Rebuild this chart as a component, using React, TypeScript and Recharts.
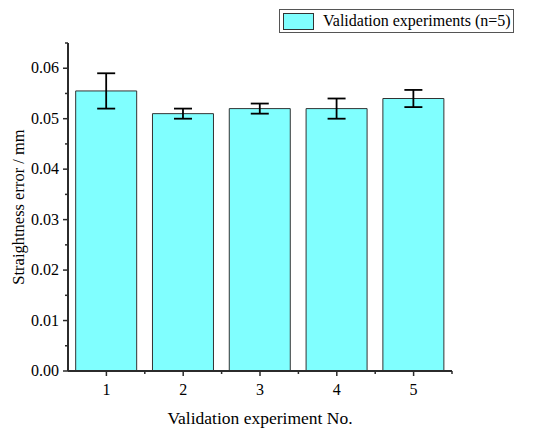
import React from 'react';
import {
  BarChart,
  Bar,
  XAxis,
  YAxis,
  ErrorBar
} from 'recharts';

const experiments = ['1', '2', '3', '4', '5'];
const meanError = [0.0555, 0.051, 0.052, 0.052, 0.054];
const stdDev = [0.0035, 0.001, 0.001, 0.002, 0.0017];
const yTicks = [0, 0.005, 0.01, 0.015, 0.02, 0.025, 0.03, 0.035, 0.04, 0.045, 0.05, 0.055, 0.06, 0.065];
const majorYTicks = [0, 0.01, 0.02, 0.03, 0.04, 0.05, 0.06];

const data = experiments.map((name, i) => ({
  name,
  value: meanError[i],
  err: stdDev[i]
}));

const FONT = '"Liberation Serif", "Times New Roman", serif';
const AXIS = '#2b2b2b';

const isMajor = (v: number) => majorYTicks.some(m => Math.abs(m - v) < 1e-9);

// tickSize/tickMargin are 0, so x is the axis line itself
const YTick = (props: any) => {
  const { x, y, payload } = props;
  const major = isMajor(payload.value);
  return (
    <g>
      <line x1={x - (major ? 5 : 3)} x2={x} y1={y} y2={y} stroke={AXIS} strokeWidth={1.5} />
      {major && (
        <text x={x - 9} y={y} dy={5} textAnchor="end" fontFamily={FONT} fontSize={16} fill="#000">
          {payload.value.toFixed(2)}
        </text>
      )}
    </g>
  );
};

const XTick = (props: any) => {
  const { x, y, payload } = props;
  const half = payload.offset || 38.4;
  return (
    <g>
      <line x1={x} x2={x} y1={y} y2={y + 5} stroke={AXIS} strokeWidth={1.5} />
      <line x1={x + half} x2={x + half} y1={y} y2={y + 3} stroke={AXIS} strokeWidth={1.5} />
      <text x={x} y={y + 24} textAnchor="middle" fontFamily={FONT} fontSize={16} fill="#000">
        {payload.value}
      </text>
    </g>
  );
};

const LegendBox = () => (
  <div
    style={{
      position: 'absolute',
      left: 279,
      top: 9,
      display: 'flex',
      alignItems: 'center',
      width: 233,
      height: 22,
      border: '1px solid #555',
      background: '#fff',
      fontFamily: FONT,
      fontSize: 16,
      whiteSpace: 'nowrap',
      boxSizing: 'content-box'
    }}
  >
    <div
      style={{
        flex: 'none',
        width: 31,
        height: 17,
        marginLeft: 3,
        marginRight: 9,
        background: '#80ffff',
        border: '1px solid #333',
        boxSizing: 'border-box'
      }}
    />
    <span>Validation experiments (n=5)</span>
  </div>
);

export default function App() {
  return (
    <div style={{ position: 'absolute', left: 0, top: 0, width: 550, height: 437, background: '#fff' }}>
      <BarChart
        width={550}
        height={437}
        data={data}
        margin={{ top: 43, right: 98, left: 0, bottom: 0 }}
        barCategoryGap="10%"
      >
        <XAxis
          dataKey="name"
          height={66}
          axisLine={{ stroke: AXIS, strokeWidth: 2 }}
          tickLine={false}
          tickSize={0}
          tickMargin={0}
          tick={<XTick />}
          interval={0}
          label={{
            value: 'Validation experiment No.',
            position: 'insideBottom',
            offset: 13,
            style: { fontFamily: FONT, fontSize: 17.5, fill: '#000' }
          }}
        />
        <YAxis
          width={68}
          domain={[0, 0.065]}
          ticks={yTicks}
          interval={0}
          axisLine={{ stroke: AXIS, strokeWidth: 2 }}
          tickLine={false}
          tickSize={0}
          tickMargin={0}
          tick={<YTick />}
          label={{
            value: 'Straightness error / mm',
            angle: -90,
            position: 'insideLeft',
            offset: 18,
            style: { fontFamily: FONT, fontSize: 16.5, fill: '#000', textAnchor: 'middle' }
          }}
        />
        <Bar
          dataKey="value"
          fill="#80ffff"
          stroke="#333"
          strokeWidth={1}
          isAnimationActive={false}
        >
          <ErrorBar dataKey="err" width={9} stroke="#000" strokeWidth={1.8} isAnimationActive={false} />
        </Bar>
      </BarChart>
      <LegendBox />
    </div>
  );
}
